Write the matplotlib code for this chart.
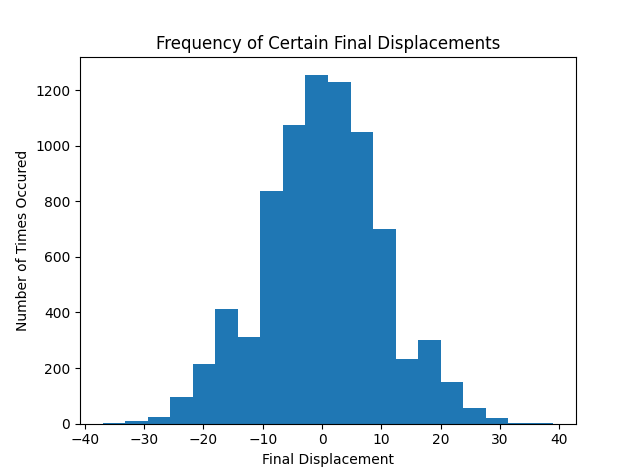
import matplotlib.pyplot as plt
import numpy as np

# histogram bins
bin_edges = np.linspace(-37, 39, 21)
counts = [2, 8, 25, 95, 215, 413, 312, 838, 1073, 1256,
          1228, 1050, 700, 233, 300, 150, 55, 22, 3, 1]

centers = (bin_edges[:-1] + bin_edges[1:]) / 2

fig = plt.figure(figsize=(6.4, 4.76), dpi=100)
plt.hist(centers, bins=bin_edges, weights=counts, color='#1f77b4')
plt.title("Frequency of Certain Final Displacements")
plt.xlabel("Final Displacement")
plt.ylabel("Number of Times Occured")

plt.savefig("out.png", dpi=100)
plt.close()
